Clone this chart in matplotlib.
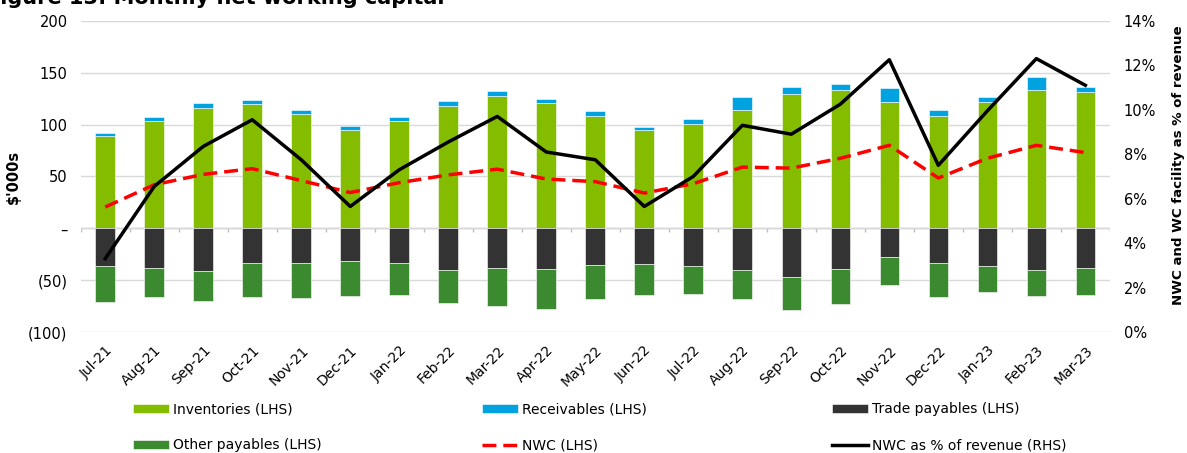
import matplotlib.pyplot as plt
import numpy as np

months = ['Jul-21', 'Aug-21', 'Sep-21', 'Oct-21', 'Nov-21', 'Dec-21', 'Jan-22',
          'Feb-22', 'Mar-22', 'Apr-22', 'May-22', 'Jun-22', 'Jul-22', 'Aug-22',
          'Sep-22', 'Oct-22', 'Nov-22', 'Dec-22', 'Jan-23', 'Feb-23', 'Mar-23']

# $'000s
inventories = [89, 103, 116, 120, 110, 95, 103, 118, 128, 120.5, 108, 95, 100.5, 114,
               129.5, 133, 122, 108, 122, 133.5, 131.5]
receivables = [3, 4, 5, 4, 4, 4, 4.5, 4.5, 4, 4, 5, 3, 5, 13,
               7, 6.5, 13.5, 6, 5, 12, 5]
trade_payables = [-36.5, -38, -41.5, -33, -33, -31.5, -33, -40.5, -38, -39, -35, -34, -36, -40,
                  -47, -39.5, -28, -33, -36, -40.5, -38]
other_payables = [-34.5, -28.5, -28.5, -33.5, -34, -34, -31, -31.5, -37, -38.5, -33.5, -30.5, -27, -28.5,
                  -32, -33, -27, -33, -25.5, -25, -26]
nwc = [20.5, 42, 52, 57.5, 46, 34.5, 44, 51.5, 57, 47.5, 45, 34, 43, 59,
       58, 67.5, 80, 48.5, 67.5, 80, 73]
# % of revenue (RHS)
nwc_pct = [3.3, 6.55, 8.35, 9.55, 7.75, 5.65, 7.3, 8.55, 9.7, 8.1, 7.75, 5.65, 7.0, 9.3,
           8.9, 10.25, 12.25, 7.5, 9.95, 12.3, 11.1]

left_ticks = [-100, -50, 0, 50, 100, 150, 200]
left_labels = ['(100)', '(50)', '–', '50', '100', '150', '200']
right_ticks = [0, 2, 4, 6, 8, 10, 12, 14]

c_inv = '#84BC00'
c_rec = '#00A3E0'
c_trade = '#333333'
c_other = '#3B8A2F'
c_grid = '#D9D9D9'

plt.rcParams['font.family'] = 'DejaVu Sans'

fig = plt.figure(figsize=(11.87, 4.53), dpi=100)
ax = fig.add_axes([0.068, 0.267, 0.867, 0.687])
ax2 = ax.twinx()

x = np.arange(len(months))
w = 0.4
inv = np.array(inventories)
tp = np.array(trade_payables)

ax.bar(x, inv, w, color=c_inv, edgecolor='white', linewidth=0.4, zorder=2,
       label='Inventories (LHS)')
ax.bar(x, receivables, w, bottom=inv, color=c_rec, edgecolor='white', linewidth=0.4,
       zorder=2, label='Receivables (LHS)')
ax.bar(x, tp, w, color=c_trade, edgecolor='white', linewidth=0.4, zorder=2,
       label='Trade payables (LHS)')
ax.bar(x, other_payables, w, bottom=tp, color=c_other, edgecolor='white', linewidth=0.4,
       zorder=2, label='Other payables (LHS)')
ax.plot(x, nwc, color='#FF0000', linestyle=(0, (4, 2)), linewidth=2.5, zorder=3,
        label='NWC (LHS)')
ax2.plot(x, nwc_pct, color='black', linewidth=2.5, zorder=4,
         label='NWC as % of revenue (RHS)')

ax.set_xlim(-0.5, len(months) - 0.5)
ax.set_ylim(-100, 200)
ax.set_yticks(left_ticks)
ax.set_yticklabels(left_labels, fontsize=10.5)
ax.grid(axis='y', color=c_grid, linewidth=1, zorder=0)
ax.axhline(0, color='#BFBFBF', linewidth=1, zorder=1)
# category boundary tick marks on the zero line
ax.vlines(np.arange(len(months) + 1) - 0.5, -4, 0, color='#BFBFBF', linewidth=1, zorder=1)

ax.set_xticks(x)
ax.set_xticklabels(months, rotation=45, ha='right', rotation_mode='anchor', fontsize=10)
ax.tick_params(axis='both', length=0)
ax.tick_params(axis='y', pad=9.5)
ax.tick_params(axis='x', pad=8)
ax.set_ylabel("$'000s", fontsize=10.5, fontweight='bold', labelpad=5)

ax2.set_ylim(0, 14)
ax2.set_yticks(right_ticks)
ax2.set_yticklabels([f'{t}%' for t in right_ticks], fontsize=10.5)
ax2.tick_params(axis='y', length=0, pad=10)
ax2.set_ylabel('NWC and WC facility as % of revenue', fontsize=9.6, fontweight='bold')
ax2.yaxis.set_label_coords(1.0605, 0.535)

ax.set_zorder(ax2.get_zorder() - 1)
ax.patch.set_visible(True)
ax2.patch.set_visible(False)

for a in (ax, ax2):
    for s in a.spines.values():
        s.set_visible(False)

fig.text(-0.012, 0.991, 'Figure 13: Monthly net working capital', fontsize=15,
         fontweight='bold', va='baseline', ha='left')

h1, l1 = ax.get_legend_handles_labels()
h2, l2 = ax2.get_legend_handles_labels()
hd = dict(zip(l1 + l2, h1 + h2))
cols = [['Inventories (LHS)', 'Other payables (LHS)'],
        ['Receivables (LHS)', 'NWC (LHS)'],
        ['Trade payables (LHS)', 'NWC as % of revenue (RHS)']]
col_x = [0.112, 0.406, 0.701]
for cx, names in zip(col_x, cols):
    fig.legend([hd[n] for n in names], names, loc='upper left',
               bbox_to_anchor=(cx, 0.112), frameon=False, fontsize=10,
               handlelength=2.6, handletextpad=0.25, labelspacing=1.6,
               borderaxespad=0, borderpad=0)

fig.savefig('out.png', dpi=100)
